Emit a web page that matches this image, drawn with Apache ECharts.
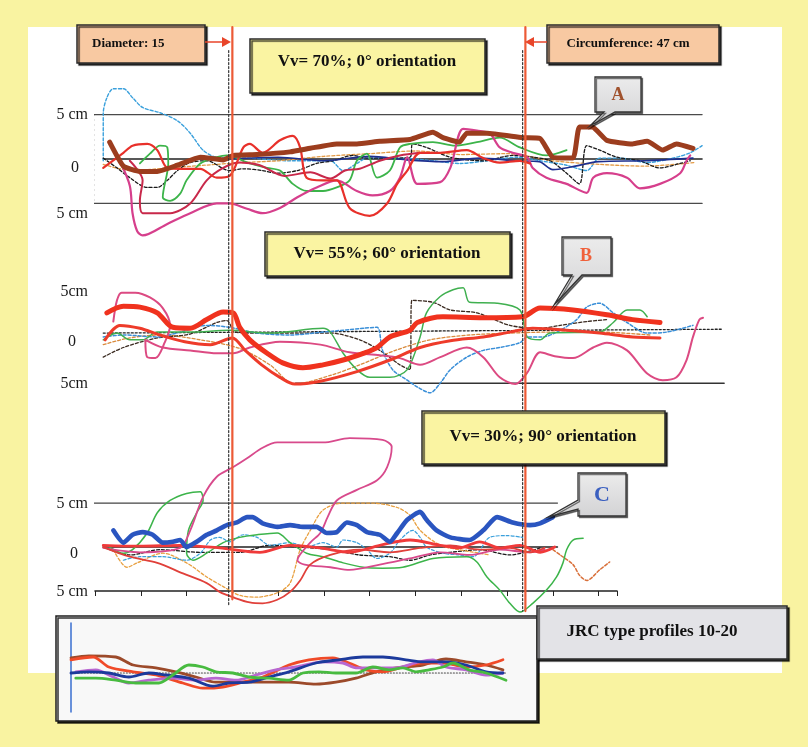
<!DOCTYPE html>
<html><head><meta charset="utf-8">
<script src="https://cdn.jsdelivr.net/npm/echarts@6/dist/echarts.min.js"></script>
<style>html,body{margin:0;padding:0;background:#F9F3A1}#c{width:808px;height:747px}</style>
</head><body><div id="c"></div>
<script>
// ---------- reference values (cm) ----------
const DIAMETER = 15;
const CIRCUMFERENCE = 47;
const boxTitles = ['Vv= 70%; 0° orientation', 'Vv= 55%; 60° orientation', 'Vv= 30%; 90° orientation'];
const axisLabels1 = ['5 cm', '0', '5 cm'];
const axisLabels2 = ['5cm', '0', '5cm'];
const axisTickValues = [5, 0, -5];

// ---------- panel 1 : Vv 70%, 0° ----------
const p1Brown = [[1.6,1.9],[3.1,-0.8],[4.9,-1.4],[6.8,-1.4],[9.0,-0.7],[11.5,0.2],[14.0,-0.1],[15.1,0.4],[17.7,0.5],[21.3,0.8],[23.5,1.2],[26.4,1.7],[28.6,1.7],[31.1,2.0],[34.4,2.2],[36.9,3.0],[38.0,2.4],[39.8,1.9],[40.6,2.9],[42.8,2.9],[46.7,2.4],[48.6,2.3],[50.0,0.2],[52.2,0.1],[52.9,3.6],[54.3,3.6],[55.9,2.1],[58.7,1.7],[60.3,2.0],[62.0,1.0],[63.5,1.7],[65.3,1.2]];
const p1Cyan = [[0.9,-0.2],[0.9,5.1],[1.3,6.9],[2.0,7.9],[3.1,7.9],[4.1,6.9],[5.2,5.8],[7.1,5.2],[9.0,4.3],[10.4,2.9],[11.8,1.0],[13.3,0.2],[16.9,0.1],[21.3,-0.2],[25.7,-0.2],[27.1,-1.3],[28.6,-0.5],[29.7,0.1],[33.3,0.1],[36.9,-0.2],[39.8,-0.5],[42.8,-0.2],[46.1,0.2],[48.6,-0.2],[51.5,-0.7],[53.7,-1.3],[55.1,0.1],[57.3,0.1],[60.3,-0.4],[63.1,0.1],[65.0,0.7],[66.3,1.5]];
const p1Red = [[0.9,-1.0],[3.1,0.7],[4.1,1.5],[5.7,1.7],[6.8,1.0],[7.9,-1.0],[9.6,-1.1],[11.5,-1.1],[13.3,-2.1],[14.7,-1.9],[16.2,1.3],[16.9,1.7],[18.3,0.7],[20.2,2.1],[21.6,2.6],[22.4,1.3],[23.1,-2.1],[24.9,-2.4],[26.4,-2.4],[27.8,-5.5],[30.0,-6.4],[31.9,-5.0],[33.0,-2.8],[34.1,-1.3],[35.5,0.7],[37.7,0.7],[40.6,1.0],[42.4,0.1],[44.2,-0.4],[46.4,-0.2],[47.5,-0.5]];
const p1Green = [[4.9,-0.5],[6.0,0.6],[7.1,1.5],[7.9,1.3],[8.0,-0.5],[7.4,-4.3],[8.2,-4.7],[9.3,-3.9],[10.0,-2.4],[11.5,-0.5],[13.3,0.2],[14.4,0.4],[16.9,-0.5],[18.8,-1.0],[20.2,-1.3],[21.6,-2.8],[23.1,-3.6],[24.9,-3.6],[26.4,-3.2],[27.8,-2.4],[28.6,-0.2],[29.7,0.6],[30.8,-2.1],[32.2,-1.3],[33.3,1.3],[34.4,1.7],[36.9,1.9],[39.3,1.5],[41.7,1.9],[44.2,2.4],[46.4,1.3],[49.3,0.4],[51.5,1.0]];
const p1Magenta = [[2.7,-0.2],[3.8,-3.0],[4.1,-6.1],[4.6,-8.1],[5.2,-8.6],[7.9,-7.3],[10.4,-6.1],[13.3,-5.0],[14.7,-5.0],[16.6,-5.6],[18.3,-6.1],[20.2,-5.5],[22.1,-4.3],[24.2,-3.2],[26.4,-2.4],[28.6,-3.6],[30.3,-4.1],[32.2,-3.6],[33.3,-2.1],[34.1,0.2],[35.2,-2.8],[37.7,-2.6],[38.8,-1.0],[40.2,3.4],[41.7,3.2],[43.1,2.9],[44.2,1.3],[45.6,0.7],[47.2,0.2],[47.8,-1.0],[49.3,-2.1],[51.5,-2.8],[53.7,-3.8],[54.4,-2.1],[55.9,-1.6],[58.1,-2.1],[59.5,-3.3],[61.7,-2.8],[63.9,-1.6],[64.6,-0.2],[65.0,0.4]];
const p1Crimson = [[3.8,-0.2],[5.2,-2.4],[4.9,-4.7],[5.2,-6.1],[8.2,-6.1],[10.4,-5.0],[12.2,-2.4],[14.0,-1.0],[15.8,-0.4],[18.0,-0.7],[20.7,-1.9],[23.5,-1.5],[25.7,-2.2],[27.3,-1.3],[28.9,-1.1],[31.1,-0.2],[33.3,0.4],[35.5,0.7]];
const p1Black = [[0.9,0.1],[2.4,-1.0],[3.8,-2.1],[5.7,-3.2],[6.8,-3.2],[7.9,-2.4],[9.0,-1.3],[10.4,-0.4],[12.2,-0.2],[14.7,-1.3],[16.2,-1.1],[18.3,-1.3],[19.9,-1.6],[22.1,-1.3],[24.2,-0.5],[26.0,-0.2],[28.2,0.4],[29.7,0.1],[32.2,0.1],[34.4,0.2],[34.7,1.7],[36.2,1.3],[38.8,0.2],[42.4,-0.2],[45.6,0.4],[47.8,0.2],[49.7,-0.2],[51.5,-1.6],[52.9,-2.8],[53.7,1.5],[55.1,1.0],[57.0,0.2],[59.5,-0.2],[61.7,-1.0],[63.9,-0.5],[65.0,-0.2]];
const p1Orange = [[0.9,-0.6],[4,-1.3],[8,-1.0],[12,-0.7],[16,-0.4],[20,-0.2],[25,0.3],[30,0.6],[35,0.9],[40,0.5],[45,0.6],[50,-0.2],[55,-0.6],[60,-0.8],[65.5,-0.4]];
const p1Navy = [[14.7,0],[20,0.2],[25,-0.2],[30,0.3],[34,-0.1],[38,-0.3],[42,0.1],[46,-0.2],[48.5,-0.3],[50,-1.2],[52,-0.9],[55,-0.3],[60,-0.2],[65.3,0.1]];

// ---------- panel 2 : Vv 55%, 60° ----------
const p2RedB = [[1.3,2.3],[3.1,3.0],[4.9,2.9],[6.8,2.3],[8.5,0.8],[10.4,0.7],[12.2,1.6],[14.0,2.4],[15.1,2.3],[15.8,0.8],[16.9,-0.5],[18.8,-1.9],[20.5,-2.9],[22.7,-3.4],[24.9,-3.1],[27.1,-2.6],[29.3,-1.9],[30.8,-1.3],[32.2,-0.2],[34.4,0.5],[35.2,1.3],[38.0,1.9],[42.4,1.8],[46.7,1.9],[48.6,2.8],[52.2,2.6],[55.9,2.1],[58.7,1.6],[61.7,1.3]];
const p2Red = [[1.1,-0.5],[2.7,1.0],[4.9,0.7],[7.1,0.0],[9.8,-0.7],[12.6,-1.0],[15.0,-0.3],[16.4,-1.6],[18.2,-3.1],[20.2,-4.4],[21.8,-5.1],[24.6,-4.8],[28.6,-3.8],[32.2,-2.6],[35.5,-1.3],[38.8,-0.6],[42.4,-0.2],[45.3,0.3],[47.8,0.7],[51.5,0.5],[55.1,0.2],[58.7,-0.2],[61.7,-0.3]];
const p2Pink = [[2.0,1.4],[2.4,3.6],[2.9,4.4],[4.4,4.4],[6.0,3.9],[7.4,2.8],[8.2,1.0],[7.6,-0.8],[6.6,-2.4],[5.7,-2.3],[5.5,-0.5],[7.4,-1.3],[10.4,-1.6],[13.3,-1.9],[15.1,-1.9],[16.9,-1.3],[20.2,-0.7],[24.6,-1.0],[27.8,-1.8],[31.1,-2.1],[33.3,-2.4],[35.5,-3.1],[37.7,-2.3],[40.6,-1.3],[42.4,-2.3],[44.2,-4.4],[45.9,-5.1],[47.2,-3.9],[48.6,-1.8],[50.2,-2.2],[52.2,-2.4],[54.4,-1.3],[55.9,-0.8],[58.1,-1.6],[60.3,-4.0],[62.0,-4.7],[63.5,-4.4],[64.6,-2.6],[65.3,-0.2],[66.0,1.6],[66.4,1.8]];
const p2Green = [[0.9,-0.5],[2.4,0.2],[3.8,-0.5],[5.2,-0.5],[6.8,0.3],[10.4,0.3],[14.7,0.5],[19.1,0.2],[24.9,0.7],[25.7,0.3],[27.1,-1.9],[28.6,-3.6],[30.0,-4.4],[32.2,-4.4],[34.1,-3.6],[35.5,-0.2],[36.2,2.3],[37.7,4.0],[39.1,4.7],[40.2,4.9],[40.9,3.4],[43.9,3.3],[46.4,2.6],[47.2,-0.2],[48.6,-0.5],[49.7,0.2],[55.1,0.3],[56.6,1.3],[58.1,2.6],[59.5,2.6],[60.3,1.9]];
const p2Blue = [[0.9,-0.2],[3.1,0.0],[6.8,-0.2],[9.3,0.3],[12.2,1.0],[14.7,0.8],[17.7,0.2],[21.3,0.0],[24.9,0.3],[29.3,0.7],[30.8,0.8],[31.4,-1.6],[32.5,-3.6],[34.1,-4.7],[35.2,-5.4],[36.6,-6.0],[37.7,-5.0],[38.8,-3.6],[40.6,-2.3],[42.4,-1.6],[44.2,-1.3],[46.4,-0.8],[47.2,-0.2],[48.9,-0.2],[50.8,0.5],[52.6,1.6],[53.7,2.9],[55.1,3.3],[56.6,2.3],[58.1,1.3],[60.3,0.2],[62.4,0.3],[65.3,1.0]];
const p2Dark = [[0.9,-2.3],[3.1,-1.3],[6.8,-0.3],[10.4,0.1],[13.3,1.3],[14.4,1.5],[15.3,0.3],[18.0,0.2],[22.4,0.2],[25.7,0.2],[28.9,-0.5],[31.1,-1.6],[33.3,-3.1],[34.4,-3.6],[34.6,3.6],[36.9,3.4],[38.8,2.6],[41.7,2.3],[45.3,1.0],[48.6,0.7],[50.8,1.0],[53.7,1.4],[55.9,1.6]];
const p2Orange = [[0.9,-1.0],[3.8,-0.3],[7.1,0.0],[11.5,-0.5],[15.8,-1.4],[19.1,-3.1],[21.8,-5.1],[25.7,-4.2],[28.9,-3.1],[32.8,-1.6],[36.6,-0.5],[40.9,0.0],[45.3,0.2],[49.7,0.3],[55.1,0.3],[60.6,0.0]];

// ---------- panel 3 : Vv 30%, 90° ----------
const p3BlueC = [[2.0,1.9],[3.1,0.5],[4.1,1.4],[5.2,1.7],[6.3,1.4],[7.4,0.5],[8.5,0.6],[9.3,0.8],[10.0,0.0],[11.1,0.6],[12.2,1.4],[13.3,1.9],[14.4,2.5],[15.5,2.8],[16.6,3.4],[17.2,3.4],[18.3,2.7],[19.9,2.3],[21.3,2.5],[22.7,2.3],[24.2,2.3],[25.3,1.6],[26.4,1.7],[27.5,2.8],[28.6,2.5],[29.7,1.7],[31.1,1.4],[32.2,0.6],[33.0,1.6],[34.1,3.1],[35.5,4.0],[36.2,3.1],[37.3,1.9],[38.8,1.1],[40.9,0.8],[42.4,1.9],[43.9,3.4],[45.6,2.8],[47.5,2.5],[48.6,2.7],[50.0,3.4]];
const p3Pink = [[0.9,-0.1],[4.9,-0.6],[9.3,-0.1],[10.4,1.9],[11.8,5.7],[13.3,8.0],[15.1,9.1],[16.6,10.1],[18.3,11.3],[19.9,11.9],[22.1,11.9],[24.9,11.9],[27.8,12.4],[31.4,12.2],[32.4,11.4],[31.9,9.1],[30.8,7.6],[28.6,6.5],[26.4,5.3],[25.4,3.4],[24.6,1.6],[23.5,0.5],[22.1,-1.5],[22.9,-2.0],[25.7,-2.3],[27.8,-2.6],[31.1,-2.0],[34.4,-1.3],[37.7,-0.6],[40.9,-0.9],[44.2,-0.3],[47.5,-0.6],[49.1,-0.3]];
const p3Crimson = [[0.9,0.0],[3.8,-1.1],[6.8,-1.8],[9.6,-3.0],[12.2,-4.1],[13.6,-5.1],[15.3,-5.8],[16.9,-6.3],[18.3,-6.4],[19.9,-6.0],[21.3,-5.1],[22.4,-3.8],[23.5,-2.0],[25.7,-0.9],[28.9,-0.3],[32.2,-0.6],[35.5,-0.1],[38.8,0.2],[42.0,-0.3],[45.3,-0.1],[47.5,-0.6],[49.1,-0.1]];
const p3Red = [[0.9,0.2],[4.9,0.1],[9.3,0.2],[13.6,-0.1],[18.0,-0.6],[21.3,0.2],[24.6,-0.1],[27.8,-0.6],[31.1,0.2],[34.4,0.8],[37.7,0.2],[39.8,-0.1],[42.0,0.6],[44.2,-0.1],[46.4,0.2],[48.6,-0.6],[50.2,0.0]];
const p3Green = [[1.6,0.0],[3.1,-0.7],[4.1,-0.3],[5.7,1.6],[6.8,3.9],[8.2,5.3],[10.0,6.1],[11.5,6.3],[11.8,5.3],[11.1,3.9],[10.2,1.9],[10.0,-0.7],[10.7,-1.5],[12.2,-0.7],[14.0,0.5],[15.8,1.1],[17.7,1.4],[19.9,1.6],[21.3,0.5],[23.1,-0.7],[24.9,-1.1],[27.1,-1.8],[29.3,-2.3],[31.4,-2.4],[33.6,-2.3],[36.9,-1.3],[40.6,-1.1],[41.7,-1.7],[42.8,-3.4],[44.2,-4.9],[45.3,-6.4],[46.4,-7.4],[47.8,-6.4],[49.3,-4.9],[50.4,-3.4],[51.1,-1.8],[51.5,-0.3],[52.2,0.8],[53.3,1.0]];
const p3Cyan = [[3.1,-1.5],[4.9,-1.1],[7.4,-1.1],[10.0,-1.5],[11.5,-0.7],[12.6,0.8],[13.6,1.1],[14.7,0.6],[16.2,1.4],[17.7,1.1],[19.1,0.2],[21.3,0.5],[23.1,0.0],[24.9,0.5],[26.4,0.0],[27.1,0.8],[28.6,0.5],[29.7,-0.3],[30.8,-1.3],[32.2,-0.7],[33.3,0.8],[34.7,1.9],[35.5,1.1],[36.2,0.0],[38.0,-0.7],[39.8,-0.9],[41.3,-1.1],[43.1,1.1],[45.0,1.3],[46.7,1.1]];
const p3Orange = [[2.0,-0.3],[3.5,-2.3],[4.6,-1.8],[7.4,-0.7],[10.0,-1.8],[12.2,-3.4],[14.0,-4.5],[15.8,-5.5],[17.7,-5.7],[19.9,-5.2],[21.3,-4.1],[22.4,-0.3],[23.5,1.9],[24.9,4.2],[27.1,5.0],[30.3,5.0],[33.0,4.5],[34.4,3.6],[35.5,1.9],[37.7,0.2],[39.8,-0.3],[43.1,-0.9]];
const p3OrangeTail = [[50.0,-0.3],[50.8,-0.9],[52.2,-2.0],[52.9,-3.2],[53.7,-3.8],[55.1,-2.6],[56.2,-1.7]];
const p3Black = [[0.9,0.0],[3.8,-0.9],[7.1,-0.3],[11.5,-0.6],[15.8,-0.6],[19.1,0.2],[22.4,0.0],[25.7,-0.3],[28.9,-0.9],[32.2,-1.1],[34.4,-1.5],[36.6,-0.9],[38.8,-0.6],[42.0,-0.3],[45.3,-0.9],[48.6,-0.1]];

// ---------- inset : JRC type profiles 10-20 ----------
const jrcBrown = [[0,3.8],[4.1,4.3],[10.3,4.0],[14.3,2.0],[19.5,1.3],[24.1,0.3],[28.7,-1.0],[33.3,-2.3],[38.6,-2.3],[44.1,-2.3],[50.1,-2.3],[56.3,-2.8],[60.9,-2.3],[65.5,-1.3],[70.1,0.3],[74.7,1.3],[80.9,2.0],[86.2,3.5],[90.8,2.8],[95.4,2.0],[99.3,0.8]];
const jrcRed = [[0,3.3],[5.1,4.0],[8.7,1.5],[14.3,0.3],[19.5,-0.5],[25.7,-2.5],[30.3,-3.8],[34.9,-3.5],[39.5,-2.3],[44.1,-1.0],[50.1,2.0],[54.7,3.3],[60.2,3.8],[63.9,2.5],[67.8,0.8],[71.7,0.3],[76.3,1.5],[80.9,2.5],[85.5,2.5],[90.8,1.5],[95.4,2.0],[99.3,3.3]];
const jrcNavy = [[0,0],[4.1,0.3],[8.7,0],[13.3,-1.0],[17.9,0],[21.8,-0.5],[27.1,-1.3],[32.6,-3.3],[36.3,-2.5],[40.9,-2.3],[45.5,-1.0],[50.1,0.3],[56.3,2.5],[61.6,3.3],[67.1,4.0],[71.7,4.0],[77.0,3.3],[80.9,2.8],[86.2,2.8],[90.8,2.0],[95.4,0.3],[99.3,0]];
const jrcPurple = [[1.1,0.3],[5.7,0.8],[9.7,-1.0],[13.3,-2.5],[17.9,-1.8],[23.4,-1.3],[28.7,-1.8],[33.3,-1.3],[37.9,-1.8],[42.5,-0.5],[47.1,0.8],[51.7,1.5],[57.9,2.8],[62.5,2.5],[65.5,1.3],[70.1,1.3],[74.7,1.3],[80.0,2.8],[83.2,3.3],[86.2,1.5],[90.8,0.8],[95.4,-0.5],[99.3,0]];
const jrcGreen = [[1.1,-1.3],[5.7,-1.3],[10.3,-1.8],[14.9,-2.5],[20.2,-2.5],[23.4,-0.5],[27.1,2.0],[30.3,1.5],[33.3,0.3],[37.2,0],[40.9,-1.0],[45.5,-1.3],[50.1,-1.8],[53.3,0],[57.0,0.3],[60.9,0],[65.5,0],[69.4,1.5],[73.1,0.8],[76.3,1.3],[79.3,0.3],[82.3,0.8],[85.5,1.5],[87.8,2.5],[91.5,0.8],[95.4,0],[100,-1.8]];

// ---------- reference guide lines ----------
const p1Upper = [[-0.2,5],[66.3,5]], p1Lower = [[-0.2,-5],[66.3,-5]], p1Zero = [[0.9,0],[66.3,0]], p1Axis = [[-0.2,5],[-0.2,-5]];
const p2Lower = [[21.9,-5],[68.7,-5]], p2Zero = [[0.9,0.2],[68.5,0.6]], p2Axis = [[-0.3,5],[-0.3,-5]];
const p3Upper = [[-0.5,5],[50.5,5]], p3Zero = [[0.9,0],[50.5,0]], p3Axis = [[-0.5,5],[-0.5,-5]];
const jrcZero = [[1,0],[100,0]], jrcAxis = [[0,12.5],[0,-9.75]];

// ---------- chart ----------
const SERIF = '"Liberation Serif","Times New Roman",serif';
const chart = echarts.init(document.getElementById('c'), null, {renderer: 'canvas'});

function L(gi, data, color, width, dash, smooth, z) {
  return {type: 'line', xAxisIndex: gi, yAxisIndex: gi, data: data, symbol: 'none', clip: false,
    smooth: smooth === undefined ? 0.3 : smooth, silent: true, animation: false, z: z || 2,
    lineStyle: {color: color, width: width, type: dash || 'solid', cap: 'round', join: 'round'}};
}
function yLab(labels, shiftZero, shiftUp, shiftLow, padZeroRight) {
  const f = {fontFamily: SERIF, fontSize: 16, color: '#1a1a1a'};
  return {
    show: true, margin: 7, customValues: axisTickValues,
    formatter: function (v) { return v === 0 ? '{z|' + labels[1] + '}' : (v > 0 ? '{u|' + labels[0] + '}' : '{d|' + labels[2] + '}'); },
    rich: {
      u: Object.assign({padding: [shiftUp * 2, 0, 0, 0]}, f),
      z: Object.assign({padding: [shiftZero * 2, padZeroRight, 0, 0]}, f),
      d: Object.assign({padding: [shiftLow * 2, 0, 0, 0]}, f)
    }
  };
}
const hid = {axisLine: {show: false}, axisTick: {show: false}, splitLine: {show: false}};

function box(x, y, w, h, fill, text, font, tx, ty, align, color) {
  return {type: 'group', z: 100, children: [
    {type: 'rect', z: 100, shape: {x: x, y: y, width: w, height: h},
      style: {fill: fill, stroke: '#2a2a2a', lineWidth: 1.5, shadowColor: 'rgba(0,0,0,0.75)', shadowOffsetX: 2, shadowOffsetY: 2, shadowBlur: 1}},
    {type: 'text', z: 101, x: tx, y: ty, style: {text: text, font: font, fill: color || '#111', align: align || 'center', verticalAlign: 'middle'}}
  ]};
}
function callout(points, text, color, tx, ty, size) {
  return {type: 'group', z: 100, children: [
    {type: 'polygon', z: 100, shape: {points: points},
      style: {fill: new echarts.graphic.LinearGradient(0, 0, 0, 1, [{offset: 0, color: '#ececec'}, {offset: 1, color: '#d2d2d4'}]),
        stroke: '#333', lineWidth: 1.3, shadowColor: 'rgba(0,0,0,0.5)', shadowOffsetX: 1.5, shadowOffsetY: 1.5}},
    {type: 'text', z: 101, x: tx, y: ty, style: {text: text, font: 'bold ' + size + 'px ' + SERIF, fill: color, align: 'center', verticalAlign: 'middle'}}
  ]};
}

const option = {
  backgroundColor: '#F9F3A1',
  animation: false,
  grid: [
    {left: 95, top: 79, width: 641, height: 160, containLabel: false, outerBoundsMode: 'none'},
    {left: 95, top: 258, width: 641, height: 154, containLabel: false, outerBoundsMode: 'none'},
    {left: 95, top: 424, width: 522, height: 167, containLabel: false, outerBoundsMode: 'none'},
    {left: 71, top: 621, width: 435, height: 100, containLabel: false, outerBoundsMode: 'none'},
    {left: 95, top: 27, width: 641, height: 590, containLabel: false, outerBoundsMode: 'none'}
  ],
  xAxis: [
    {gridIndex: 0, type: 'value', min: 0, max: 70, show: false},
    {gridIndex: 1, type: 'value', min: 0, max: 70, show: false},
    {gridIndex: 2, type: 'value', min: 0, max: 57, interval: 5,
      axisLine: {show: true, onZero: false, lineStyle: {color: '#222', width: 1.6}},
      axisTick: {show: true, length: 5, lineStyle: {color: '#222', width: 1}},
      axisLabel: {show: false}, splitLine: {show: false}},
    {gridIndex: 3, type: 'value', min: 0, max: 100, show: false},
    {gridIndex: 4, type: 'value', min: 0, max: 70, show: false}
  ],
  yAxis: [
    Object.assign({gridIndex: 0, type: 'value', min: -9, max: 9, axisLabel: yLab(axisLabels1, 9, 0, 10, 9)}, hid),
    Object.assign({gridIndex: 1, type: 'value', min: -8, max: 8, axisLabel: yLab(axisLabels2, 7, 5, 1, 12)}, hid),
    Object.assign({gridIndex: 2, type: 'value', min: -5, max: 14, axisLabel: yLab(axisLabels1, 7, 1, 1, 10)}, hid),
    {gridIndex: 3, type: 'value', min: -12, max: 13, show: false},
    {gridIndex: 4, type: 'value', min: 0, max: 100, inverse: true, show: false}
  ],
  series: [
    // panel 1 guides
    L(0, p1Upper, '#4a4a4a', 1.2, 'solid', 0), L(0, p1Lower, '#4a4a4a', 1.2, 'solid', 0),
    L(0, p1Zero, '#222', 1.3, 'solid', 0), L(0, p1Axis, '#333', 2, [1, 4], 0),
    // panel 1 profiles
    L(0, p1Cyan, '#3aa0dc', 1.4, [3, 2]), L(0, p1Orange, '#e39a45', 1.3, [3, 2]),
    L(0, p1Black, '#1a1a1a', 1.3, [3, 2]), L(0, p1Navy, '#1e2f8f', 1.6, 'solid'),
    L(0, p1Green, '#3cb44a', 1.8), L(0, p1Crimson, '#c8284a', 2), L(0, p1Magenta, '#d63f8c', 2.2),
    L(0, p1Red, '#e8302a', 2.2), L(0, p1Brown, '#9c3d1e', 5, 'solid', 0.15, 5),
    // panel 2
    L(1, p2Lower, '#333', 1.5, 'solid', 0), L(1, p2Zero, '#222', 1.3, [2, 2], 0), L(1, p2Axis, '#333', 2, [1, 4], 0),
    L(1, p2Orange, '#d98a3c', 1.3, [3, 2]), L(1, p2Dark, '#3a2a20', 1.3, [3, 2]),
    L(1, p2Blue, '#3a8fd8', 1.5, [3, 2]), L(1, p2Green, '#40b050', 1.5),
    L(1, p2Pink, '#dc4a82', 2), L(1, p2Red, '#ee3b2a', 3), L(1, p2RedB, '#f0321e', 5, 'solid', 0.3, 5),
    // panel 3
    L(2, p3Upper, '#444', 1.2, 'solid', 0), L(2, p3Zero, '#222', 1.4, 'solid', 0), L(2, p3Axis, '#333', 2, [1, 4], 0),
    L(2, p3Black, '#1a1a1a', 1.3, [3, 2]), L(2, p3Orange, '#e8a040', 1.3, [3, 2]), L(2, p3OrangeTail, '#d9703a', 1.5, [3, 2]),
    L(2, p3Cyan, '#3aa0dc', 1.2, [3, 2]), L(2, p3Green, '#3cb44a', 1.5),
    L(2, p3Pink, '#d84a8c', 1.8), L(2, p3Crimson, '#e0403a', 1.8), L(2, p3Red, '#f03a3a', 2.8),
    L(2, p3BlueC, '#2a55c0', 4.6, 'solid', 0.2, 5),
    // inset
    L(3, jrcZero, '#444', 1.2, [1, 2], 0, 3), L(3, jrcAxis, '#3a6fd0', 1.5, 'solid', 0, 3),
    L(3, jrcBrown, '#9c4a2a', 2.8, 'solid', 0.3, 3), L(3, jrcRed, '#f04a28', 2.8, 'solid', 0.3, 3),
    L(3, jrcPurple, '#b866d0', 2.8, 'solid', 0.3, 3), L(3, jrcNavy, '#1c3a9c', 2.8, 'solid', 0.3, 3),
    L(3, jrcGreen, '#48bb40', 2.8, 'solid', 0.3, 3),
    // vertical reference lines (diameter / circumference)
    L(4, [[DIAMETER - 0.4, 4], [DIAMETER - 0.4, 98]], '#333', 1.2, [2, 2], 0, 6),
    L(4, [[CIRCUMFERENCE - 0.3, 4], [CIRCUMFERENCE - 0.3, 99]], '#333', 1.2, [2, 2], 0, 6),
    L(4, [[DIAMETER, 0], [DIAMETER, 97]], '#ec5a36', 2.2, 'solid', 0, 7),
    L(4, [[CIRCUMFERENCE, 0], [CIRCUMFERENCE, 99]], '#ec5a36', 2.2, 'solid', 0, 7)
  ],
  graphic: [
    {type: 'rect', z: -10, shape: {x: 28, y: 27, width: 754, height: 646}, style: {fill: '#ffffff'}},
    {type: 'rect', z: 1, shape: {x: 56, y: 616, width: 481, height: 105},
      style: {fill: '#f8f8f8', stroke: '#1e1e1e', lineWidth: 1.5, shadowColor: 'rgba(0,0,0,0.8)', shadowOffsetX: 2, shadowOffsetY: 2}},
    box(77, 25, 128, 38, '#F8C9A2', 'Diameter: ' + DIAMETER, 'bold 13px ' + SERIF, 92, 44, 'left'),
    box(547, 25, 172, 38, '#F8C9A2', 'Circumference: ' + CIRCUMFERENCE + ' cm', 'bold 13px ' + SERIF, 628, 44),
    {type: 'line', z: 100, shape: {x1: 205, y1: 42, x2: 223, y2: 42}, style: {stroke: '#e8452a', lineWidth: 1.5}},
    {type: 'polygon', z: 100, shape: {points: [[222, 37], [231, 42], [222, 47]]}, style: {fill: '#e8452a'}},
    {type: 'line', z: 100, shape: {x1: 547, y1: 42, x2: 533, y2: 42}, style: {stroke: '#e8452a', lineWidth: 1.5}},
    {type: 'polygon', z: 100, shape: {points: [[534, 37], [525, 42], [534, 47]]}, style: {fill: '#e8452a'}},
    box(250, 39, 235, 54, '#FAF4A2', boxTitles[0], 'bold 17px ' + SERIF, 367, 62),
    box(265, 232, 245, 44, '#FAF4A2', boxTitles[1], 'bold 17px ' + SERIF, 387, 254),
    box(422, 411, 243, 53, '#FAF4A2', boxTitles[2], 'bold 17px ' + SERIF, 543, 437),
    callout([[595, 77], [641, 77], [641, 112], [615, 112], [590, 126], [604, 112], [595, 112]], 'A', '#a0522d', 618, 95, 18),
    callout([[562, 237], [611, 237], [611, 275], [582, 275], [554, 305], [572, 275], [562, 275]], 'B', '#f0603a', 586, 256, 18),
    callout([[578, 473], [626, 473], [626, 516], [578, 516], [578, 509], [548, 517], [578, 500]], 'C', '#3a5fc0', 602, 495, 22),
    box(537, 606, 250, 53, '#e3e3e7', 'JRC type profiles 10-20', 'bold 17px ' + SERIF, 652, 632)
  ]
};
chart.setOption(option);
</script></body></html>
